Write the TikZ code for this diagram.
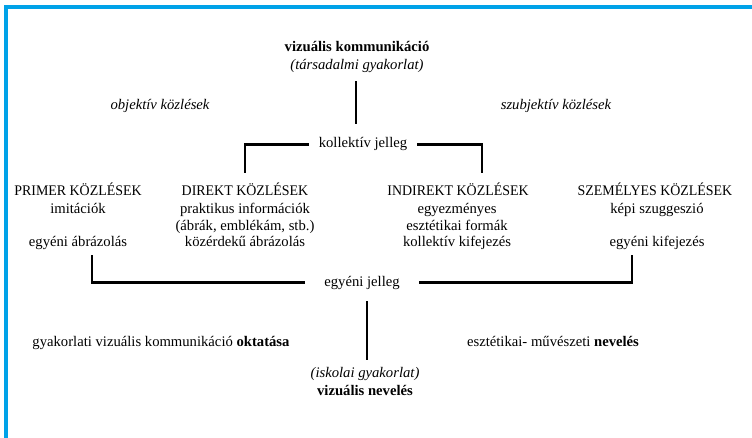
\documentclass[tikz,border=0pt]{standalone}
\usepackage{fontspec}
\setmainfont{Liberation Serif}
\newfontfamily\capsfont[FakeStretch=0.95]{Liberation Serif}
\definecolor{frameblue}{RGB}{0,162,232}
\newcommand\fs{\fontsize{11}{12.5}\selectfont}
\tikzset{
  txt/.style={font=\fs, inner sep=0pt, anchor=base},
  htxt/.style={font=\fs\capsfont, inner sep=0pt, anchor=base},
  btxt/.style={font=\fs\bfseries, inner sep=0pt, anchor=base},
  itxt/.style={font=\fs\itshape, inner sep=0pt, anchor=base},
  conn/.style={line width=2pt, line cap=rect},
  frame/.style={line width=3pt, draw=frameblue},
}
\begin{document}
\begin{tikzpicture}[x=0.75pt, y=-0.75pt]
\useasboundingbox (0,0) rectangle (752,438);
% blue frame
\coordinate (fbl) at (6,438);
\coordinate (ftl) at (6,7);
\coordinate (ftr) at (752,7);
\draw[frame] (fbl) -- (ftl) -- (ftr);

% top
\node[btxt] (vk) at (357,52) {vizuális kommunikáció};
\node[itxt] (tg) at (357,70) {(társadalmi gyakorlat)};
\node[itxt] (obj) at (160,110) {objektív közlések};
\node[itxt] (szub) at (556,110) {szubjektív közlések};
\node[txt, inner xsep=8pt] (koll) at (363,148) {kollektív jelleg};

% four columns
\node[htxt] (p1) at (78,196) {PRIMER KÖZLÉSEK};
\node[txt] (p2) at (78,214) {imitációk};
\node[txt] (p4) at (78,246) {egyéni ábrázolás};

\node[htxt] (d1) at (245,196) {DIREKT KÖZLÉSEK};
\node[txt] (d2) at (245,214) {praktikus információk};
\node[txt] (d3) at (245,230) {(ábrák, emblékám, stb.)};
\node[txt] (d4) at (245,246) {közérdekű ábrázolás};

\node[htxt] (i1) at (458,196) {INDIREKT KÖZLÉSEK};
\node[txt] (i2) at (457,214) {egyezményes};
\node[txt] (i3) at (457,230) {esztétikai formák};
\node[txt] (i4) at (457,246) {kollektív kifejezés};

\node[htxt] (s1) at (655,196) {SZEMÉLYES KÖZLÉSEK};
\node[txt] (s2) at (657,214) {képi szuggeszió};
\node[txt] (s4) at (657,246) {egyéni kifejezés};

% middle
\node[txt, inner xsep=15pt] (egy) at (362,286) {egyéni jelleg};

% bottom
\node[txt] (okt) at (161,346) {gyakorlati vizuális kommunikáció \textbf{oktatása}};
\node[txt] (nev) at (553,346) {esztétikai- művészeti \textbf{nevelés}};
\node[itxt] (isk) at (365,377) {(iskolai gyakorlat)};
\node[btxt] (vn) at (365,395) {vizuális nevelés};

% connectors
\coordinate (t1) at (356,82);
\coordinate (t2) at (356,123);
\draw[conn] (t1) -- (t2);
\coordinate (kl) at (245,172);
\coordinate (kr) at (482,172);
\draw[conn] (koll.west) -| (kl);
\draw[conn] (koll.east) -| (kr);
\coordinate (el) at (92,256);
\coordinate (er) at (632,256);
\draw[conn] (egy.west) -| (el);
\draw[conn] (egy.east) -| (er);
\coordinate (b1) at (367,302);
\coordinate (b2) at (367,359);
\draw[conn] (b1) -- (b2);
\end{tikzpicture}
\end{document}
